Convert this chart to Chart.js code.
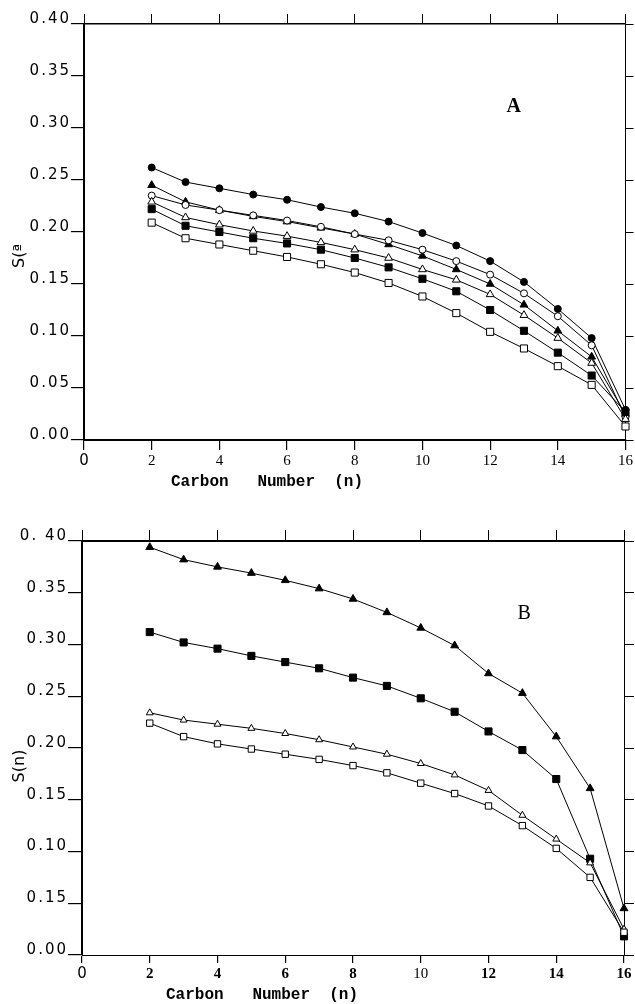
<!DOCTYPE html>
<html>
<head>
<meta charset="utf-8">
<title>Carbon Number S(n)</title>
<script src="https://cdn.jsdelivr.net/npm/chart.js@4.4.1/dist/chart.umd.min.js"></script>
<style>
  body { margin: 0; background: #fff; }
  canvas { display: block; }
</style>
</head>
<body>
<canvas id="chartA" width="635" height="495"></canvas>
<canvas id="chartB" width="635" height="509"></canvas>
<script>
// two panels of S(n) against carbon number

"use strict";
let $ = function (id) {return document.getElementById(id);}

const carbon = [2, 3, 4, 5, 6, 7, 8, 9, 10, 11, 12, 13, 14, 15, 16];

const xTickLabels = ['0', '2', '4', '6', '8', '10', '12', '14', '16'];
const yTickLabelsA = ['0.00', '0.05', '0.10', '0.15', '0.20', '0.25', '0.30', '0.35', '0.40'];
const yTickLabelsB = ['0.00', '0.15', '0.10', '0.15', '0.20', '0.25', '0.30', '0.35', '0. 40'];

// panel A
const aFilledCircle   = [0.262, 0.248, 0.242, 0.236, 0.231, 0.224, 0.218, 0.210, 0.199, 0.187, 0.172, 0.152, 0.126, 0.098, 0.029];
const aFilledTriangle = [0.245, 0.229, 0.221, 0.215, 0.210, 0.204, 0.198, 0.188, 0.177, 0.164, 0.150, 0.130, 0.105, 0.080, 0.025];
const aOpenCircle     = [0.235, 0.226, 0.221, 0.216, 0.211, 0.205, 0.198, 0.192, 0.183, 0.172, 0.159, 0.141, 0.119, 0.091, 0.022];
const aOpenTriangle   = [0.229, 0.214, 0.207, 0.201, 0.196, 0.190, 0.183, 0.175, 0.164, 0.154, 0.140, 0.120, 0.098, 0.074, 0.020];
const aFilledSquare   = [0.222, 0.206, 0.200, 0.194, 0.189, 0.183, 0.175, 0.166, 0.155, 0.143, 0.125, 0.105, 0.084, 0.062, 0.027];
const aOpenSquare     = [0.209, 0.194, 0.188, 0.182, 0.176, 0.169, 0.161, 0.151, 0.138, 0.122, 0.104, 0.088, 0.071, 0.053, 0.013];

// panel B
const bFilledTriangle = [0.394, 0.382, 0.375, 0.369, 0.362, 0.354, 0.344, 0.331, 0.316, 0.299, 0.272, 0.253, 0.211, 0.161, 0.045];
const bFilledSquare   = [0.312, 0.302, 0.296, 0.289, 0.283, 0.277, 0.268, 0.260, 0.248, 0.235, 0.216, 0.198, 0.170, 0.093, 0.018];
const bOpenTriangle   = [0.234, 0.227, 0.223, 0.219, 0.214, 0.208, 0.201, 0.194, 0.185, 0.174, 0.159, 0.135, 0.112, 0.089, 0.025];
const bOpenSquare     = [0.224, 0.211, 0.204, 0.199, 0.194, 0.189, 0.183, 0.176, 0.166, 0.156, 0.144, 0.125, 0.103, 0.075, 0.022];

// linear scale whose tick labels are drawn letter-spaced, like the wide typewriter digits
class SpacedLinear extends Chart.LinearScale
{
  drawLabels(area)
  {
    this.ctx.save();
    this.ctx.letterSpacing = '2px';
    super.drawLabels(area);
    this.ctx.restore();
  }
}
SpacedLinear.id = 'spacedLinear';
SpacedLinear.defaults = Chart.LinearScale.defaults;
Chart.register(SpacedLinear);

let series = function (values, style, filled, radius)
{
  return {
    data: carbon.map((c, i) => ({x: c, y: values[i]})),
    borderColor: '#000',
    borderWidth: 1,
    pointStyle: style,
    pointRadius: radius,
    pointBorderWidth: 1,
    pointBorderColor: '#000',
    pointBackgroundColor: filled ? '#000' : '#fff',
    tension: 0,
    clip: false
  };
};

// axis titles and the panel letter, placed against the chart area
const panelText =
  {
  id: 'panelText',
  afterDraw(chart, args, o)
  {
    const ctx = chart.ctx, a = chart.chartArea;
    ctx.save();
    ctx.fillStyle = '#000';
    ctx.textAlign = 'center';
    ctx.textBaseline = 'middle';

    ctx.font = o.letterFont;
    ctx.fillText(o.letter, chart.scales.x.getPixelForValue(o.letterAt[0]), chart.scales.y.getPixelForValue(o.letterAt[1]));

    ctx.font = 'bold 16px "Liberation Mono"';
    ctx.fillText('Carbon   Number  (n)', a.left + o.xTitleDx, a.bottom + o.xTitleDy);

    ctx.translate(20, (a.top + a.bottom) / 2 + o.yTitleDy);
    ctx.rotate(-Math.PI / 2);
    ctx.font = '16px "DejaVu Sans"';
    ctx.fillText(o.yTitle, 0, 0);
    ctx.restore();
  }
};

let makeConfig = function (datasets, yLabels, s)
{
  return {
    type: 'line',
    data: {datasets},
    plugins: [panelText],
    options:
      {
      responsive: false,
      animation: false,
      layout: {padding: {top: s.padTop, right: 0, bottom: 0, left: 0}},
      plugins:
        {
        legend: {display: false},
        tooltip: {enabled: false},
        panelText: s.text
      },
      scales:
        {
        x:
          {
          type: 'linear', position: 'bottom', min: 0, max: 16,
          border: {color: '#000', width: s.bottomWidth},
          grid: {drawOnChartArea: false, color: '#000', tickLength: s.xTick, lineWidth: 1.2},
          ticks:
            {
            stepSize: 2, padding: 2, color: '#000',
            font: function (c)
            {
              let v = c.tick ? c.tick.value : -1;
              if (v === 0) return {family: 'DejaVu Sans', size: 15};
              return {family: 'Liberation Serif', size: 15, weight: (s.xBold && v !== 10) ? 'bold' : 'normal'};
            },
            callback: function (v, i) {return xTickLabels[i];}
          },
          afterFit: function (scale) {scale.height = s.xHeight;}
        },
        x2:
          {
          type: 'linear', position: 'top', min: 0, max: 16,
          border: {color: '#000', width: s.topWidth},
          grid: {drawOnChartArea: false, color: '#000', tickLength: s.topTick},
          ticks: {display: false, stepSize: 2},
          afterFit: function (scale) {scale.height = s.topTick;}
        },
        y:
          {
          type: 'spacedLinear', position: 'left', min: 0, max: 0.4,
          border: {color: '#000', width: 2},
          grid: {drawOnChartArea: false, color: '#000', tickLength: s.yTick, lineWidth: 1.2},
          ticks:
            {
            stepSize: 0.05, padding: 0, labelOffset: -5, color: '#000',
            font: {family: 'DejaVu Sans', size: 15},
            callback: function (v, i) {return yLabels[i];}
          },
          afterFit: function (scale) {scale.width = s.yWidth;}
        },
        y2:
          {
          type: 'linear', position: 'right', min: 0, max: 0.4,
          border: {color: '#000', width: 1},
          grid: {drawOnChartArea: false, color: '#000', tickLength: s.rightTick},
          ticks: {display: false, stepSize: 0.05},
          afterFit: function (scale) {scale.width = s.rightTick + 1;}
        }
      }
    }
  };
};

const datasetsA =
  [
  series(aOpenSquare, 'rect', false, 5),
  series(aFilledSquare, 'rect', true, 5),
  series(aOpenTriangle, 'triangle', false, 4.5),
  series(aOpenCircle, 'circle', false, 3.5),
  series(aFilledTriangle, 'triangle', true, 4.5),
  series(aFilledCircle, 'circle', true, 3.5)
];

const datasetsB =
  [
  series(bOpenSquare, 'rect', false, 4.5),
  series(bOpenTriangle, 'triangle', false, 4),
  series(bFilledSquare, 'rect', true, 5),
  series(bFilledTriangle, 'triangle', true, 4.5)
];

const chartA = new Chart($('chartA').getContext('2d'), makeConfig(datasetsA, yTickLabelsA,
  {
  padTop: 14, topTick: 10, topWidth: 1.5, xTick: 10, xHeight: 55, bottomWidth: 2,
  yTick: 13, yWidth: 84, rightTick: 8, xBold: false,
  text: {letter: 'A', letterFont: 'bold 20px "Liberation Serif"', letterAt: [12.7, 0.32],
         xTitleDx: 183, xTitleDy: 42, yTitle: 'S(ª', yTitleDy: 24}
}));

const chartB = new Chart($('chartB').getContext('2d'), makeConfig(datasetsB, yTickLabelsB,
  {
  padTop: 35, topTick: 11, topWidth: 2, xTick: 8, xHeight: 49, bottomWidth: 1,
  yTick: 14, yWidth: 82, rightTick: 10, xBold: true,
  text: {letter: 'B', letterFont: '20px "Liberation Serif"', letterAt: [13.05, 0.33],
         xTitleDx: 180, xTitleDy: 40, yTitle: 'S(n)', yTitleDy: 18}
}));
</script>
</body>
</html>
